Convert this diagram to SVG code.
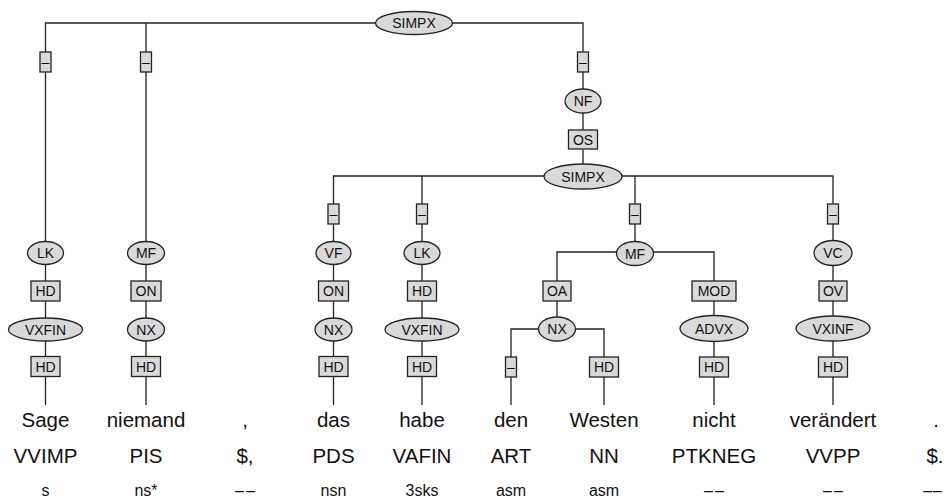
<svg xmlns="http://www.w3.org/2000/svg" width="945" height="502" viewBox="0 0 945 502">
<style>
.c{fill:none;stroke:#222;stroke-width:1.3}
.e{fill:#d9d9d9;stroke:#222;stroke-width:1.3}
.b{fill:#d9d9d9;stroke:#222;stroke-width:1.3}
.l{font-family:"Liberation Sans",Arial,sans-serif;font-size:14px;fill:#111;text-anchor:middle}
.w{font-family:"Liberation Sans",Arial,sans-serif;font-size:20.5px;fill:#111;text-anchor:middle}
.m{font-family:"Liberation Sans",Arial,sans-serif;font-size:16px;fill:#111;text-anchor:middle}
.d{letter-spacing:2px}
</style>
<rect width="945" height="502" fill="#fff"/>
<g id="connectors">
<path class="c" d="M45.5,405V23H583V176 M146,23V405 M333.5,405V176H833V405 M422,176V405 M635,176V252 M557,329V252H714V405 M511,405V329H604V405"/>
</g>
<g id="n-simpx-top"><ellipse class="e" cx="414" cy="23" rx="38.5" ry="11.5"/><text class="l" x="414" y="28">SIMPX</text></g>
<g id="e-sage"><rect class="b" x="40" y="52" width="11" height="20"/><text class="l" x="45.5" y="67">–</text></g>
<g id="e-niemand"><rect class="b" x="140.5" y="52" width="11" height="20"/><text class="l" x="146" y="67">–</text></g>
<g id="e-nf"><rect class="b" x="577.5" y="52" width="11" height="20"/><text class="l" x="583" y="67">–</text></g>
<g id="n-nf"><ellipse class="e" cx="583" cy="101" rx="18" ry="12"/><text class="l" x="583" y="106">NF</text></g>
<g id="e-os"><rect class="b" x="568.5" y="130" width="29" height="19"/><text class="l" x="583" y="144.5">OS</text></g>
<g id="n-simpx2"><ellipse class="e" cx="583" cy="176.5" rx="39" ry="12.5"/><text class="l" x="583" y="181.5">SIMPX</text></g>
<g id="e-vf"><rect class="b" x="328" y="204" width="11" height="20"/><text class="l" x="333.5" y="219">–</text></g>
<g id="e-lk2"><rect class="b" x="416.5" y="204" width="11" height="20"/><text class="l" x="422" y="219">–</text></g>
<g id="e-mf2"><rect class="b" x="629.5" y="204" width="11" height="20"/><text class="l" x="635" y="219">–</text></g>
<g id="e-vc"><rect class="b" x="827.5" y="204" width="11" height="20"/><text class="l" x="833" y="219">–</text></g>
<g id="n-lk1"><ellipse class="e" cx="45.5" cy="253" rx="18" ry="11.5"/><text class="l" x="45.5" y="258">LK</text></g>
<g id="e-hd1"><rect class="b" x="31" y="281" width="29" height="20"/><text class="l" x="45.5" y="296">HD</text></g>
<g id="n-vxfin1"><ellipse class="e" cx="45.5" cy="329.5" rx="37" ry="11.5"/><text class="l" x="45.5" y="334.5">VXFIN</text></g>
<g id="e-hd1b"><rect class="b" x="31" y="356.5" width="29" height="20"/><text class="l" x="45.5" y="371.5">HD</text></g>
<g id="n-mf1"><ellipse class="e" cx="146" cy="253" rx="18.5" ry="11.5"/><text class="l" x="146" y="258">MF</text></g>
<g id="e-on1"><rect class="b" x="131" y="281" width="30" height="20"/><text class="l" x="146" y="296">ON</text></g>
<g id="n-nx1"><ellipse class="e" cx="146" cy="329.5" rx="18.5" ry="11.5"/><text class="l" x="146" y="334.5">NX</text></g>
<g id="e-hd2"><rect class="b" x="131.5" y="356.5" width="29" height="20"/><text class="l" x="146" y="371.5">HD</text></g>
<g id="n-vf"><ellipse class="e" cx="333.5" cy="253" rx="17.5" ry="11.5"/><text class="l" x="333.5" y="258">VF</text></g>
<g id="e-on2"><rect class="b" x="318.5" y="281" width="30" height="20"/><text class="l" x="333.5" y="296">ON</text></g>
<g id="n-nx2"><ellipse class="e" cx="333.5" cy="329.5" rx="18.5" ry="11.5"/><text class="l" x="333.5" y="334.5">NX</text></g>
<g id="e-hd3"><rect class="b" x="319" y="356.5" width="29" height="20"/><text class="l" x="333.5" y="371.5">HD</text></g>
<g id="n-lk2"><ellipse class="e" cx="422" cy="253" rx="18" ry="11.5"/><text class="l" x="422" y="258">LK</text></g>
<g id="e-hd4"><rect class="b" x="407.5" y="281" width="29" height="20"/><text class="l" x="422" y="296">HD</text></g>
<g id="n-vxfin2"><ellipse class="e" cx="422" cy="329.5" rx="37" ry="11.5"/><text class="l" x="422" y="334.5">VXFIN</text></g>
<g id="e-hd5"><rect class="b" x="407.5" y="356.5" width="29" height="20"/><text class="l" x="422" y="371.5">HD</text></g>
<g id="n-mf2"><ellipse class="e" cx="635" cy="253.5" rx="18.5" ry="12"/><text class="l" x="635" y="258.5">MF</text></g>
<g id="e-oa"><rect class="b" x="543" y="281" width="28" height="20"/><text class="l" x="557" y="296">OA</text></g>
<g id="n-nx3"><ellipse class="e" cx="557" cy="329" rx="18.5" ry="12"/><text class="l" x="557" y="334">NX</text></g>
<g id="e-den"><rect class="b" x="505.5" y="357" width="11" height="20"/><text class="l" x="511" y="372">–</text></g>
<g id="e-hd6"><rect class="b" x="589.5" y="357" width="29" height="20"/><text class="l" x="604" y="372">HD</text></g>
<g id="e-mod"><rect class="b" x="692" y="281" width="44" height="20"/><text class="l" x="714" y="296">MOD</text></g>
<g id="n-advx"><ellipse class="e" cx="714" cy="328.5" rx="34" ry="13"/><text class="l" x="714" y="333.5">ADVX</text></g>
<g id="e-hd7"><rect class="b" x="699.5" y="357" width="29" height="20"/><text class="l" x="714" y="372">HD</text></g>
<g id="n-vc"><ellipse class="e" cx="833" cy="253" rx="19" ry="12.5"/><text class="l" x="833" y="258">VC</text></g>
<g id="e-ov"><rect class="b" x="819" y="281" width="28" height="20"/><text class="l" x="833" y="296">OV</text></g>
<g id="n-vxinf"><ellipse class="e" cx="833" cy="328.5" rx="37" ry="12.5"/><text class="l" x="833" y="333.5">VXINF</text></g>
<g id="e-hd8"><rect class="b" x="818.5" y="357" width="29" height="20"/><text class="l" x="833" y="372">HD</text></g>
<g id="t-sage"><text class="w" x="45.5" y="427">Sage</text><text class="w" x="45.5" y="463">VVIMP</text><text class="m" x="45.5" y="496">s</text></g>
<g id="t-niemand"><text class="w" x="146" y="427">niemand</text><text class="w" x="146" y="463">PIS</text><text class="m" x="146" y="496">ns*</text></g>
<g id="t-comma"><text class="w" x="245" y="427">,</text><text class="w" x="245" y="463">$,</text><text class="m d" x="246" y="496">––</text></g>
<g id="t-das"><text class="w" x="333.5" y="427">das</text><text class="w" x="333.5" y="463">PDS</text><text class="m" x="333.5" y="496">nsn</text></g>
<g id="t-habe"><text class="w" x="422" y="427">habe</text><text class="w" x="422" y="463">VAFIN</text><text class="m" x="422" y="496">3sks</text></g>
<g id="t-den"><text class="w" x="511" y="427">den</text><text class="w" x="511" y="463">ART</text><text class="m" x="511" y="496">asm</text></g>
<g id="t-westen"><text class="w" x="604" y="427">Westen</text><text class="w" x="604" y="463">NN</text><text class="m" x="604" y="496">asm</text></g>
<g id="t-nicht"><text class="w" x="714" y="427">nicht</text><text class="w" x="714" y="463">PTKNEG</text><text class="m d" x="715" y="496">––</text></g>
<g id="t-veraendert"><text class="w" x="833" y="427">verändert</text><text class="w" x="833" y="463">VVPP</text><text class="m d" x="834" y="496">––</text></g>
<g id="t-period"><text class="w" x="936" y="427">.</text><text class="w" x="935" y="463">$.</text><text class="m" x="943" y="496" text-anchor="end" style="text-anchor:end;letter-spacing:1px">––</text></g>
</svg>
